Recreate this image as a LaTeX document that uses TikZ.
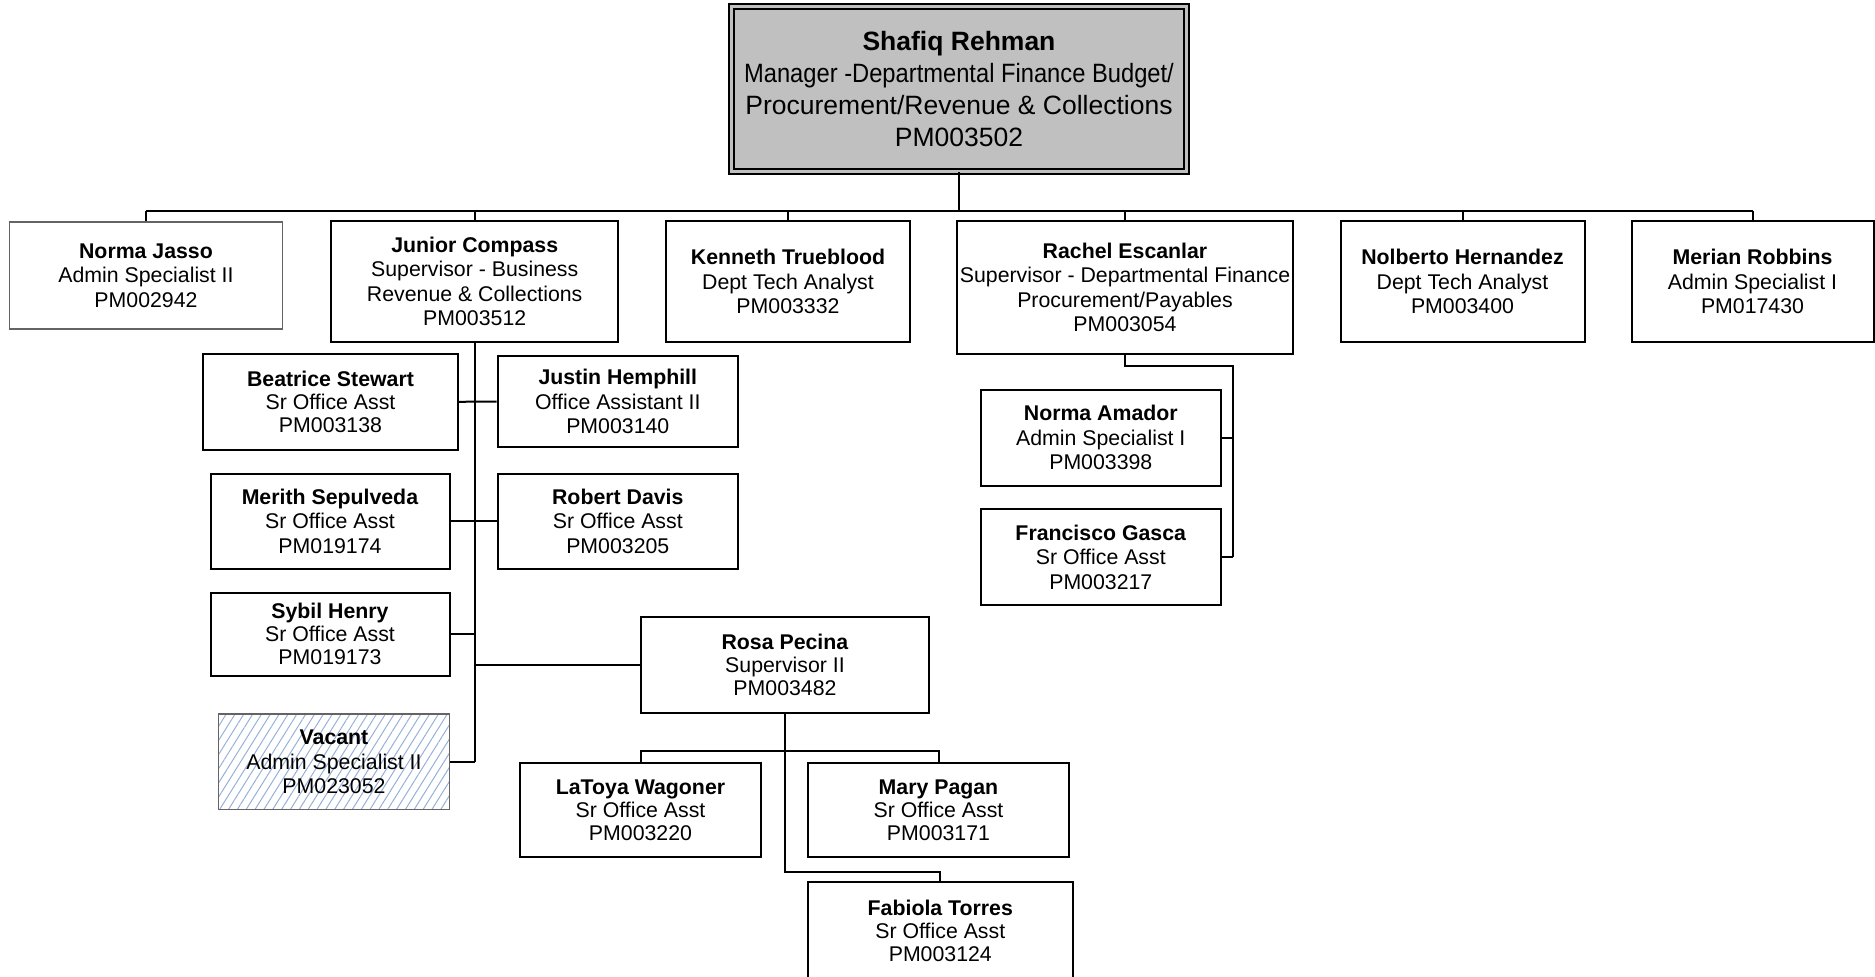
\documentclass[tikz,border=0pt]{standalone}
\usepackage{fontspec}
\setmainfont{Liberation Sans}
\usetikzlibrary{patterns.meta}
\definecolor{boxgray}{RGB}{192,192,192}
\definecolor{hatchblue}{RGB}{150,176,216}
\definecolor{thingray}{RGB}{100,100,100}
\begin{document}
\begin{tikzpicture}[x=1pt,y=-1pt,
  box/.style={draw, line width=2pt, fill=white, inner sep=0pt, align=center,
    font=\fontsize{21.3}{24.5}\selectfont},
  tight/.style={font=\fontsize{21.3}{23}\selectfont},
  thinbox/.style={draw=thingray, line width=1.2pt},
  topbox/.style={draw, line width=1.6pt, double=boxgray, double distance=3pt, fill=boxgray,
    inner sep=0pt, align=center, font=\fontsize{26.5}{31.8}\selectfont},
  conn/.style={line width=2pt},
]
\useasboundingbox (0,0) rectangle (1875,977);

% top
\node[topbox, minimum width=455pt, minimum height=165pt] (top) at (959,89)
  {\textbf{Shafiq Rehman}\\\scalebox{0.895}[1]{Manager -Departmental Finance Budget/}\\Procurement/Revenue \& Collections\\PM003502};

% level 1
\node[box, thinbox, minimum width=272.6pt, minimum height=107pt] (jasso) at (146,275.5)
  {\textbf{Norma Jasso}\\Admin Specialist II\\PM002942};
\node[box, minimum width=287pt, minimum height=121pt] (junior) at (474.7,281.5)
  {\textbf{Junior Compass}\\Supervisor - Business\\Revenue \& Collections\\PM003512};
\node[box, minimum width=244pt, minimum height=121pt] (kenneth) at (788,281.5)
  {\textbf{Kenneth Trueblood}\\Dept Tech Analyst\\PM003332};
\node[box, minimum width=336pt, minimum height=133pt] (rachel) at (1125,287.5)
  {\textbf{Rachel Escanlar}\\Supervisor - Departmental Finance\\Procurement/Payables\\PM003054};
\node[box, minimum width=244pt, minimum height=121pt] (nolberto) at (1462.5,281.5)
  {\textbf{Nolberto Hernandez}\\Dept Tech Analyst\\PM003400};
\node[box, minimum width=242pt, minimum height=121pt] (merian) at (1752.5,281.5)
  {\textbf{Merian Robbins}\\Admin Specialist I\\PM017430};

% Junior Compass staff
\node[box, tight, minimum width=255pt, minimum height=95.6pt] (beatrice) at (330.5,401.8)
  {\textbf{Beatrice Stewart}\\Sr Office Asst\\PM003138};
\node[box, minimum width=240.5pt, minimum height=91pt] (justin) at (617.8,401.5)
  {\textbf{Justin Hemphill}\\Office Assistant II\\PM003140};
\node[box, minimum width=239pt, minimum height=95.5pt] (merith) at (330,521.3)
  {\textbf{Merith Sepulveda}\\Sr Office Asst\\PM019174};
\node[box, minimum width=240.5pt, minimum height=95.5pt] (robert) at (617.8,521.3)
  {\textbf{Robert Davis}\\Sr Office Asst\\PM003205};
\node[box, tight, minimum width=239pt, minimum height=82.6pt] (sybil) at (330,634.3)
  {\textbf{Sybil Henry}\\Sr Office Asst\\PM019173};
\node[box, tight, minimum width=288pt, minimum height=95.7pt] (rosa) at (785,664.9)
  {\textbf{Rosa Pecina}\\Supervisor II\\PM003482};
\node[box, draw=thingray, line width=1.2pt, fill=none,
  pattern={Lines[angle=58,distance=7.5pt,line width=1pt]}, pattern color=hatchblue,
  minimum width=231pt, minimum height=95.6pt] (vacant) at (334,761.8) {};
\node[align=center, inner sep=0pt, font=\fontsize{21.3}{24.5}\selectfont] (vacanttext) at (vacant.center)
  {\textbf{Vacant}\\Admin Specialist II\\PM023052};

% Rosa Pecina staff
\node[box, tight, minimum width=240.5pt, minimum height=94.4pt] (latoya) at (640.5,810.2)
  {\textbf{LaToya Wagoner}\\Sr Office Asst\\PM003220};
\node[box, tight, minimum width=261pt, minimum height=94.4pt] (mary) at (938.5,810.2)
  {\textbf{Mary Pagan}\\Sr Office Asst\\PM003171};
\node[box, tight, minimum width=264.6pt, minimum height=98pt] (fabiola) at (940.3,931)
  {\textbf{Fabiola Torres}\\Sr Office Asst\\PM003124};

% Rachel Escanlar staff
\node[box, minimum width=240.4pt, minimum height=95.5pt] (amador) at (1100.8,437.8)
  {\textbf{Norma Amador}\\Admin Specialist I\\PM003398};
\node[box, minimum width=240.4pt, minimum height=95.6pt] (francisco) at (1100.8,557.2)
  {\textbf{Francisco Gasca}\\Sr Office Asst\\PM003217};

% connectors
\coordinate (bus) at (959,210.5);
\coordinate (rbus) at (785,751);
\coordinate (fturn) at (785,871.7);
\coordinate (rv) at (1233,366);

\draw[conn] (top.south) -- (bus);
\draw[conn] (jasso.north |- bus) -- (merian.north |- bus);
\foreach \n in {jasso,junior,kenneth,rachel,nolberto,merian}
  \draw[conn] (\n.north) -- (\n.north |- bus);

\draw[conn] (junior.south) -- (junior.south |- vacant.east);
\draw[conn] (beatrice.east) -- (justin.west);
\draw[conn] (merith.east) -- (robert.west);
\draw[conn] (sybil.east) -- (sybil.east -| junior.south);
\draw[conn] (vacant.east) -- (vacant.east -| junior.south);
\draw[conn] (rosa.west) -- (rosa.west -| junior.south);

\draw[conn] (latoya.north) -- (latoya.north |- rbus) -- (mary.north |- rbus) -- (mary.north);
\draw[conn] (rosa.south) |- (fabiola.north |- fturn) -- (fabiola.north);

\draw[conn] (rachel.south) |- (rv) -- (rv |- francisco.east);
\draw[conn] (amador.east) -- (amador.east -| rv);
\draw[conn] (francisco.east) -- (francisco.east -| rv);
\end{tikzpicture}
\end{document}
